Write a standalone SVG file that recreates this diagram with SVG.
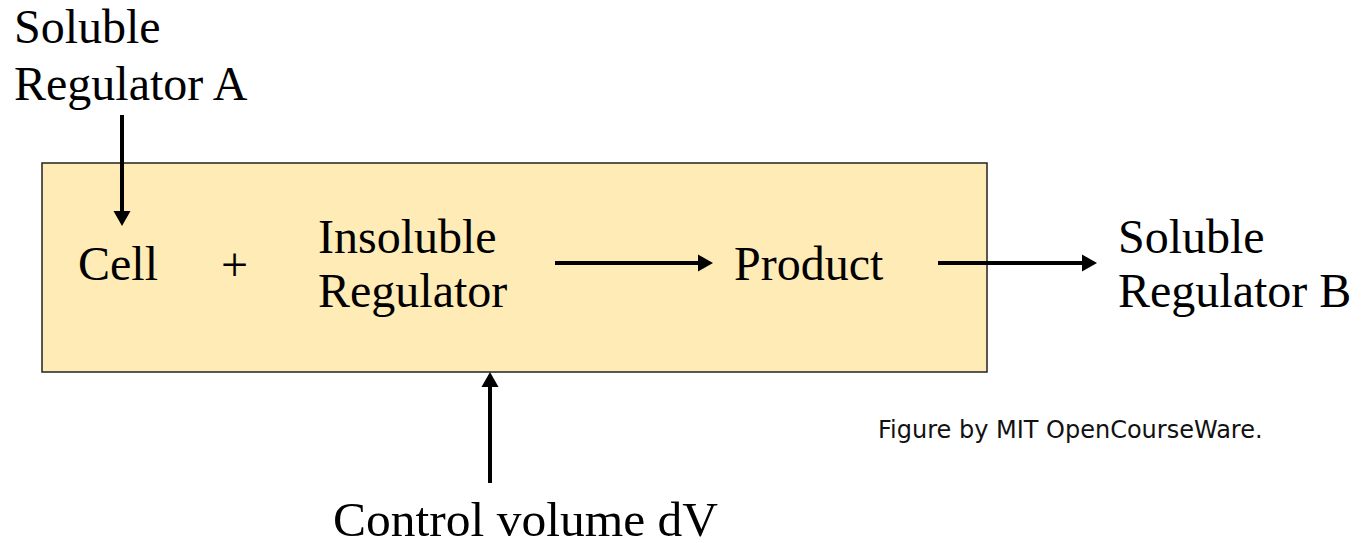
<svg xmlns="http://www.w3.org/2000/svg" width="1364" height="543" viewBox="0 0 1364 543">
<style>
.t{font-family:"Liberation Serif","Times New Roman",serif;font-size:48px;fill:#000}
.c{font-family:"DejaVu Sans",Verdana,sans-serif;font-size:24px;fill:#111}
.ln{stroke:#000;stroke-width:4;fill:none;marker-end:url(#ah)}
</style>
<defs>
<marker id="ah" markerUnits="userSpaceOnUse" markerWidth="16" markerHeight="18" refX="0" refY="8.5" orient="auto" overflow="visible">
<path d="M0,0 L15,8.5 L0,17 z" fill="#000"/>
</marker>
</defs>
<rect width="1364" height="543" fill="#fff"/>
<g id="control-volume">
<rect x="42" y="163" width="945" height="209" fill="#FEEBB6" stroke="#222" stroke-width="1.5"/>
</g>
<g id="soluble-a"><text class="t" x="14" y="43">Soluble</text><text class="t" x="14" y="100">Regulator A</text></g>
<g id="cell"><text class="t" x="78" y="280">Cell</text></g>
<g id="plus"><text class="t" x="221" y="281">+</text></g>
<g id="insoluble"><text class="t" x="318" y="253">Insoluble</text><text class="t" x="318" y="307">Regulator</text></g>
<g id="product"><text class="t" x="734" y="280">Product</text></g>
<g id="soluble-b"><text class="t" x="1118" y="253">Soluble</text><text class="t" x="1118" y="307">Regulator B</text></g>
<g id="dv-label"><text class="t" x="333" y="536" style="font-size:49.5px">Control volume dV</text></g>
<g id="credit"><text class="c" x="878" y="438">Figure by MIT OpenCourseWare.</text></g>
<g id="connectors">
<path class="ln" d="M122,115 V211"/>
<path class="ln" d="M555,263 H698"/>
<path class="ln" d="M938,263 H1082"/>
<path class="ln" d="M490,483 V387"/>
</g>
</svg>
